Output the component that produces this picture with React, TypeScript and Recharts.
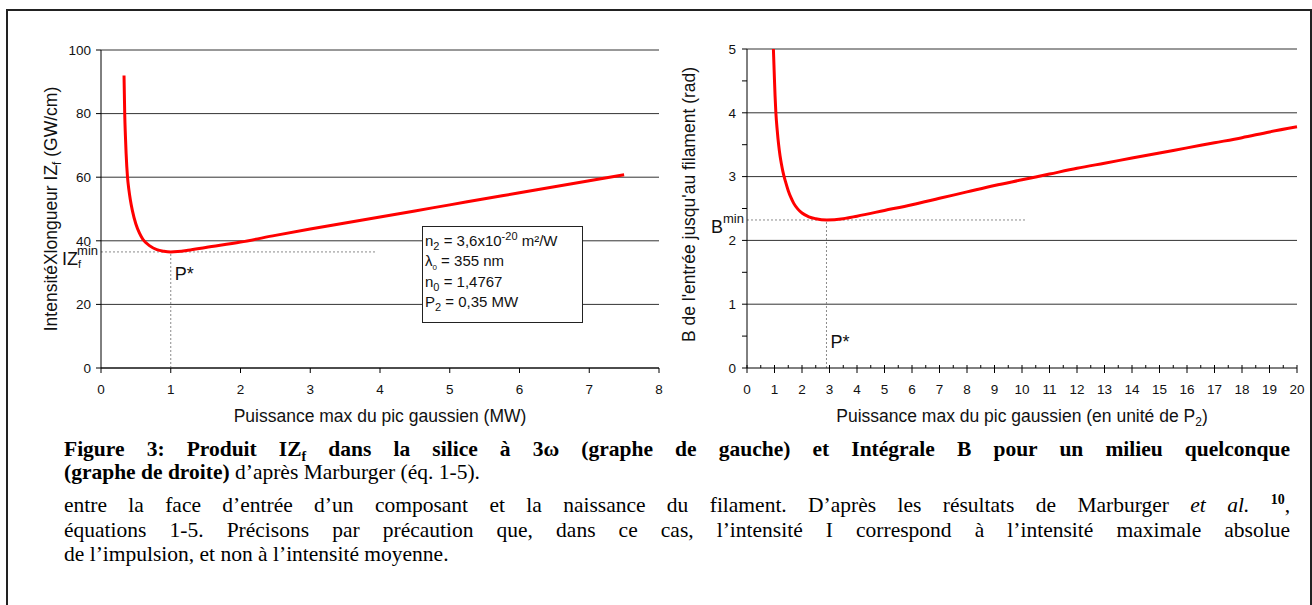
import React from "react";
import { LineChart, Line, XAxis, YAxis, CartesianGrid, ReferenceLine } from "recharts";

// left graph: IZf vs peak power (MW)
const leftPower = [0.33, 0.335, 0.34, 0.35, 0.36, 0.38, 0.4, 0.42, 0.45, 0.5, 0.55, 0.6, 0.7, 0.8, 0.9, 1.0, 1.1, 1.25, 1.5, 2, 2.5, 3, 3.5, 4, 4.5, 5, 5.5, 6, 6.5, 7, 7.5];
const leftIZ = [92, 86, 80, 73, 67.5, 60, 56, 53, 49.5, 45.3, 42.5, 40.5, 38.4, 37.2, 36.7, 36.5, 36.6, 37, 37.9, 39.6, 41.7, 43.7, 45.6, 47.5, 49.4, 51.3, 53.2, 55.1, 57, 58.9, 60.8];
const leftXTicks = [0, 1, 2, 3, 4, 5, 6, 7, 8];
const leftYTicks = [0, 20, 40, 60, 80, 100];
const leftMin = { p: 1, v: 36.5, hEnd: 3.95 };

// right graph: B integral vs power in units of P2
const rightPower = [0.96, 0.98, 1.0, 1.02, 1.05, 1.1, 1.15, 1.2, 1.25, 1.3, 1.35, 1.4, 1.5, 1.6, 1.7, 1.85, 2.0, 2.25, 2.5, 2.9, 3.5, 4, 5, 6, 7, 8, 9, 10, 11, 12, 13, 14, 15, 16, 17, 18, 19, 20];
const rightB = [5.0, 4.75, 4.5, 4.27, 4.0, 3.72, 3.5, 3.33, 3.2, 3.09, 3.0, 2.92, 2.78, 2.67, 2.58, 2.49, 2.43, 2.37, 2.34, 2.32, 2.34, 2.38, 2.47, 2.56, 2.66, 2.76, 2.86, 2.95, 3.04, 3.13, 3.21, 3.29, 3.37, 3.45, 3.53, 3.61, 3.7, 3.78];
const rightXTicks = Array.from({ length: 41 }, (_, i) => i / 2);
const rightYTicks = Array.from({ length: 11 }, (_, i) => i / 2);
const rightGrid = [1, 2, 3, 4, 5];
const rightMin = { p: 2.89, v: 2.32, hEnd: 10.17 };

const leftData = leftPower.map((p, i) => ({ p, v: leftIZ[i] }));
const rightData = rightPower.map((p, i) => ({ p, v: rightB[i] }));

const SANS = "'Liberation Sans', Arial, sans-serif";
const SERIF = "'Liberation Serif', 'Times New Roman', serif";
const tickStyle = { fontSize: 13.5, fill: "#111", fontFamily: SANS };
const intOnly = (v: number) => (Number.isInteger(v) ? String(v) : "");

function XTitle({ viewBox, text, sub, after }: any) {
  const cx = viewBox.x + viewBox.width / 2;
  return (
    <text x={cx} y={viewBox.y + 54} textAnchor="middle" fontFamily={SANS} fontSize={17.5} fill="#111">
      {text}
      {sub && <tspan fontSize={12} dy={4}>{sub}</tspan>}
      {after && <tspan dy={sub ? -4 : 0}>{after}</tspan>}
    </text>
  );
}

function LeftYTitle({ viewBox }: any) {
  const cy = viewBox.y + viewBox.height / 2;
  const x = 57;
  return (
    <text x={x} y={cy} transform={`rotate(-90 ${x} ${cy})`} textAnchor="middle" fontFamily={SANS} fontSize={17.5} fill="#111">
      IntensitéXlongueur IZ<tspan fontSize={12} dy={4}>f</tspan><tspan dy={-4}> (GW/cm)</tspan>
    </text>
  );
}

function RightYTitle({ viewBox }: any) {
  const cy = viewBox.y + viewBox.height / 2 - 4;
  const x = 15;
  return (
    <text x={x} y={cy} transform={`rotate(-90 ${x} ${cy})`} textAnchor="middle" fontFamily={SANS} fontSize={17.5} fill="#111">
      B de l'entrée jusqu'au filament (rad)
    </text>
  );
}

// right x axis: long ticks crossing the axis at integers, short ticks at halves
function RightXTick({ x, y, payload }: any) {
  const v = payload.value;
  const major = Number.isInteger(v);
  const ay = y - 16;
  return (
    <g>
      <line x1={x} x2={x} y1={ay - 3} y2={major ? ay + 5 : ay} stroke="#000" />
      {major && (
        <text x={x} y={y} dy="0.71em" textAnchor="middle" {...tickStyle}>
          {v}
        </text>
      )}
    </g>
  );
}

function MinLabel({ viewBox, main, sub, dx }: any) {
  const x = viewBox.x + dx;
  const y = viewBox.y + 13;
  return (
    <text x={x} y={y} fontFamily={SANS} fontSize={18} fill="#111">
      {main}
      {sub && <tspan fontSize={11} dy={3}>{sub}</tspan>}
      <tspan fontSize={13} dx={sub ? -4 : 0} dy={sub ? -13 : -10}>min</tspan>
    </text>
  );
}

function PStar({ viewBox, dy }: any) {
  return (
    <text x={viewBox.x + 4} y={viewBox.y + viewBox.height - dy} fontFamily={SANS} fontSize={18} fill="#111">
      P*
    </text>
  );
}

const dash = { stroke: "#8a8a8a", strokeDasharray: "2 2", strokeWidth: 1 };

function LeftChart() {
  return (
    <LineChart width={680} height={430} data={leftData} margin={{ top: 50, right: 21, bottom: 32, left: 41 }}>
      <CartesianGrid vertical={false} stroke="#333" strokeOpacity={1} />
      <XAxis
        dataKey="p"
        type="number"
        domain={[0, 8]}
        ticks={leftXTicks}
        height={30}
        tickSize={5}
        tickMargin={11}
        stroke="#000"
        tick={tickStyle}
        label={<XTitle text="Puissance max du pic gaussien (MW)" />}
      />
      <YAxis
        type="number"
        domain={[0, 100]}
        ticks={leftYTicks}
        width={60}
        tickSize={5}
        tickMargin={5}
        stroke="#000"
        tick={tickStyle}
        label={<LeftYTitle />}
      />
      <ReferenceLine
        segment={[{ x: 0, y: leftMin.v }, { x: leftMin.hEnd, y: leftMin.v }]}
        {...dash}
        label={<MinLabel main="IZ" sub="f" dx={-39} />}
      />
      <ReferenceLine
        segment={[{ x: leftMin.p, y: 0 }, { x: leftMin.p, y: leftMin.v }]}
        {...dash}
        label={<PStar dy={88} />}
      />
      <Line type="monotone" dataKey="v" stroke="#ff0000" strokeWidth={3} dot={false} isAnimationActive={false} />
    </LineChart>
  );
}

function RightChart() {
  return (
    <LineChart width={632} height={430} data={rightData} margin={{ top: 49, right: 15, bottom: 32, left: 7 }}>
      {rightGrid.map((g) => (
        <ReferenceLine key={g} y={g} stroke="#333" strokeWidth={1} />
      ))}
      <XAxis
        dataKey="p"
        type="number"
        domain={[0, 20]}
        ticks={rightXTicks}
        interval={0}
        height={30}
        tickSize={0}
        tickMargin={16}
        tickLine={false}
        stroke="#000"
        tick={<RightXTick />}
        label={<XTitle text="Puissance max du pic gaussien (en unité de P" sub="2" after=")" />}
      />
      <YAxis
        type="number"
        domain={[0, 5]}
        ticks={rightYTicks}
        interval={0}
        tickFormatter={intOnly}
        allowDataOverflow
        width={60}
        tickSize={5}
        tickMargin={6}
        stroke="#000"
        tick={tickStyle}
        label={<RightYTitle />}
      />
      <ReferenceLine
        segment={[{ x: 0, y: rightMin.v }, { x: rightMin.hEnd, y: rightMin.v }]}
        {...dash}
        label={<MinLabel main="B" dx={-36} />}
      />
      <ReferenceLine
        segment={[{ x: rightMin.p, y: 0 }, { x: rightMin.p, y: rightMin.v }]}
        {...dash}
        label={<PStar dy={20} />}
      />
      <Line type="monotone" dataKey="v" stroke="#ff0000" strokeWidth={3} dot={false} isAnimationActive={false} />
    </LineChart>
  );
}

const capLine: React.CSSProperties = {
  position: "absolute",
  left: 64,
  width: 1226,
  fontFamily: SERIF,
  fontSize: 21.5,
  lineHeight: "24px",
  color: "#000",
  whiteSpace: "nowrap",
};
const justified: React.CSSProperties = { ...capLine, whiteSpace: "normal", textAlign: "justify", textAlignLast: "justify" };
const small: React.CSSProperties = { fontSize: 11, lineHeight: 0 };

export default function App() {
  return (
    <div style={{ position: "absolute", left: 0, top: 0, width: 1312, height: 605, background: "#fff", overflow: "hidden" }}>
      <div style={{ position: "absolute", left: 6, top: 9, width: 1302, height: 700, border: "2px solid #222" }} />
      <div style={{ position: "absolute", left: 0, top: 0 }}>
        <LeftChart />
      </div>
      <div style={{ position: "absolute", left: 680, top: 0 }}>
        <RightChart />
      </div>
      <div
        style={{
          position: "absolute",
          left: 422,
          top: 226,
          width: 161,
          height: 97,
          border: "1px solid #222",
          background: "#fff",
          fontFamily: SANS,
          fontSize: 15,
          lineHeight: "20.3px",
          paddingLeft: 2,
          paddingTop: 4,
          boxSizing: "border-box",
          color: "#111",
        }}
      >
        <div>n<sub style={small}>2</sub> = 3,6x10<sup style={small}>-20</sup> m²/W</div>
        <div>λ<sub style={{ fontSize: 8, lineHeight: 0 }}>0</sub> = 355 nm</div>
        <div>n<sub style={small}>0</sub> = 1,4767</div>
        <div>P<sub style={small}>2</sub> = 0,35 MW</div>
      </div>
      <div style={{ ...justified, top: 437, fontWeight: "bold" }}>
        Figure 3: Produit IZ<sub style={{ fontSize: 14, lineHeight: 0 }}>f</sub> dans la silice à 3ω (graphe de gauche) et Intégrale B pour un milieu quelconque
      </div>
      <div style={{ ...capLine, top: 460 }}>
        <b>(graphe de droite)</b> d’après Marburger (éq. 1-5).
      </div>
      <div style={{ ...justified, top: 493 }}>
        entre la face d’entrée d’un composant et la naissance du filament. D’après les résultats de Marburger <i>et al.</i>{" "}
        <sup style={{ fontSize: 14, fontWeight: "bold", lineHeight: 0 }}>10</sup>,
      </div>
      <div style={{ ...justified, top: 518 }}>
        équations 1-5. Précisons par précaution que, dans ce cas, l’intensité I correspond à l’intensité maximale absolue
      </div>
      <div style={{ ...capLine, top: 542 }}>de l’impulsion, et non à l’intensité moyenne.</div>
    </div>
  );
}
